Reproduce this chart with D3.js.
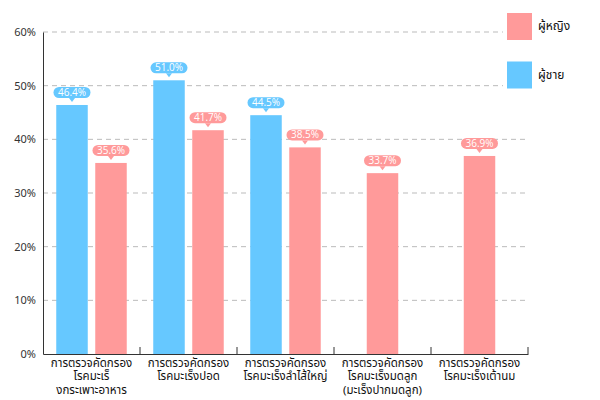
<!DOCTYPE html>
<html><head><meta charset="utf-8">
<script src="https://cdn.jsdelivr.net/npm/d3@7"></script>
<style>body{margin:0;background:#fff}svg{display:block;font-family:Tahoma,"Noto Sans Thai","Noto Sans",sans-serif}</style>
</head><body><svg id="c" width="600" height="400"></svg>
<script>
const categories = [
  ["การตรวจคัดกรอง","โรคมะเร็","งกระเพาะอาหาร"],
  ["การตรวจคัดกรอง","โรคมะเร็งปอด"],
  ["การตรวจคัดกรอง","โรคมะเร็งลำไส้ใหญ่"],
  ["การตรวจคัดกรอง","โรคมะเร็งมดลูก","(มะเร็งปากมดลูก)"],
  ["การตรวจคัดกรอง","โรคมะเร็งเต้านม"]
];
const maleValues = [46.4, 51.0, 44.5, null, null];
const femaleValues = [35.6, 41.7, 38.5, 33.7, 36.9];
const yTicks = [0, 10, 20, 30, 40, 50, 60];
const legendLabels = ["ผู้หญิง", "ผู้ชาย"];

const blue = "#66c8ff", pink = "#ff9a9a";
const svg = d3.select("#c");
const x = d3.scaleBand().domain(d3.range(categories.length)).range([43, 528]);
const y = d3.scaleLinear().domain([0, 60]).range([354, 32]);
const barW = 31.5, gap = 7.5;

// gridlines
svg.append("g").selectAll("line").data(yTicks.filter(d => d > 0)).join("line")
  .attr("x1", 43).attr("x2", 528).attr("y1", d => y(d)).attr("y2", d => y(d))
  .attr("stroke", "#bbb").attr("stroke-dasharray", "5,4").attr("stroke-width", 1);

// y axis
const ya = svg.append("g").attr("transform", "translate(43,0)")
  .call(d3.axisLeft(y).tickValues(yTicks).tickFormat(d => d + "%").tickSize(0).tickPadding(7));
ya.select(".domain").attr("stroke", "#333");
ya.selectAll("text").attr("font-size", 11).attr("fill", "#333").attr("font-family", "Tahoma, 'Noto Sans', sans-serif");

// x axis
const xa = svg.append("g").attr("transform", "translate(0,354)")
  .call(d3.axisBottom(x).tickSize(0).tickFormat(""));
xa.select(".domain").attr("stroke", "#333");
xa.selectAll(".tick").remove();
svg.append("g").selectAll("line").data(d3.range(1, categories.length + 1)).join("line")
  .attr("x1", i => x(i - 1) + x.bandwidth()).attr("x2", i => x(i - 1) + x.bandwidth())
  .attr("y1", 354).attr("y2", 347).attr("stroke", "#333");

// bars
function barX(i, isMale) {
  const c = x(i) + x.bandwidth() / 2;
  if (maleValues[i] == null) return c - barW / 2;
  return isMale ? c - gap / 2 - barW : c + gap / 2;
}
const bars = [];
maleValues.forEach((v, i) => { if (v != null) bars.push({i, v, male: true}); });
femaleValues.forEach((v, i) => { if (v != null) bars.push({i, v, male: false}); });

svg.append("g").selectAll("rect").data(bars).join("rect")
  .attr("x", d => barX(d.i, d.male)).attr("width", barW)
  .attr("y", d => y(d.v)).attr("height", d => y(0) - y(d.v))
  .attr("fill", d => d.male ? blue : pink);

// value labels
const lg = svg.append("g").selectAll("g").data(bars).join("g")
  .attr("transform", d => `translate(${barX(d.i, d.male) + barW / 2},${y(d.v) - 3})`);
lg.append("path").attr("d", "M-3,-4 L0,0 L3,-4 Z").attr("fill", d => d.male ? blue : pink);
lg.append("rect").attr("x", -18.5).attr("y", -15).attr("width", 37).attr("height", 11).attr("rx", 5.5)
  .attr("fill", d => d.male ? blue : pink);
lg.append("text").attr("y", -9.5).attr("dy", "0.35em").attr("text-anchor", "middle")
  .attr("font-size", 10).attr("fill", "#fff").attr("font-family", "'Open Sans', 'Noto Sans', sans-serif")
  .text(d => d.v.toFixed(1) + "%");

// category labels
const cl = svg.append("g").selectAll("text").data(categories).join("text")
  .attr("text-anchor", "middle").attr("font-size", 11.5).attr("fill", "#111")
  .attr("transform", (d, i) => `translate(${x(i) + x.bandwidth() / 2},366.5)`);
cl.selectAll("tspan").data(d => d).join("tspan")
  .attr("x", 0).attr("y", (d, j) => j * 13.5).text(d => d);

// legend
svg.append("rect").attr("x", 503).attr("y", 0).attr("width", 97).attr("height", 95).attr("fill", "#fff");
const leg = svg.append("g").selectAll("g").data(legendLabels).join("g")
  .attr("transform", (d, i) => `translate(507,${13 + i * 48.5})`);
leg.append("rect").attr("width", 25).attr("height", 27).attr("fill", (d, i) => i === 0 ? pink : blue);
leg.append("text").attr("x", 31).attr("y", 13).attr("dy", "0.35em").attr("font-size", 12).attr("fill", "#111").text(d => d);
</script></body></html>
